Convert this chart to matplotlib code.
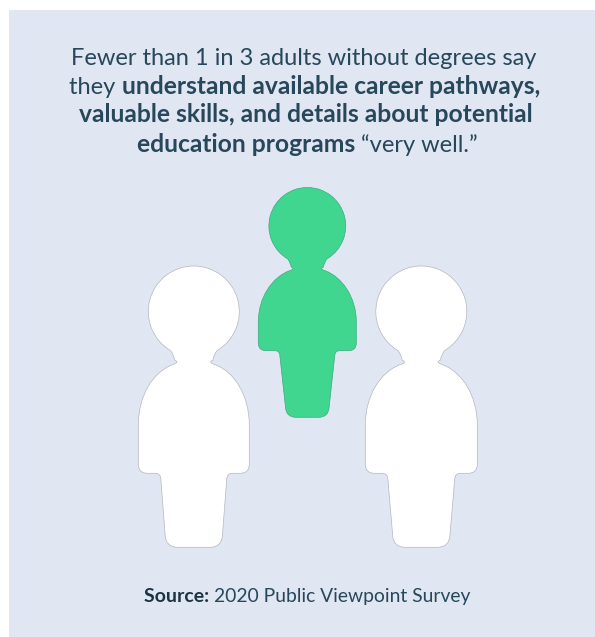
import matplotlib
matplotlib.use("Agg")
import matplotlib.pyplot as plt
from matplotlib.path import Path
from matplotlib.patches import PathPatch, Rectangle
from matplotlib.transforms import Affine2D
import numpy as np

WIDTH, HEIGHT = 595, 637

# One figure in three stands for adults who understand their options "very well".
people_highlighted = [False, True, False]
center_x = [193.8, 307.3, 421.3]
top_y = [266.0, 187.5, 266.0]
head_radius = [45.5, 38.4, 45.5]
shoulder_half = [55.5, 49.0, 56.0]
arm_bottom = [473.3, 350.7, 473.3]
leg_top_half = [33.0, 27.5, 33.5]
leg_foot_half = [28.0, 21.2, 28.0]
foot_bottom = [547.3, 417.3, 547.3]

headline = [
    [("Fewer than 1 in 3 adults without degrees say", False)],
    [("they ", False), ("understand available career pathways,", True)],
    [("valuable skills, and details about potential", True)],
    [("education programs ", True), ("\u201cvery well.\u201d", False)],
]
headline_baselines = [65, 94, 122.5, 152]
headline_mid = [304, 304.5, 305.5, 307.5]
source_runs = [("Source: ", True), ("2020 Public Viewpoint Survey", False)]

PANEL = "#E0E6F2"
GREEN = "#40D690"
INK = "#27475A"
INK_DARK = "#1B3443"

plt.rcParams["font.family"] = ["Lato", "DejaVu Sans"]

fig = plt.figure(figsize=(WIDTH / 100, HEIGHT / 100), dpi=100, facecolor="white")
ax = fig.add_axes([0, 0, 1, 1])
ax.set_xlim(0, WIDTH)
ax.set_ylim(HEIGHT, 0)
ax.axis("off")
ax.add_patch(Rectangle((9, 10), WIDTH - 9, HEIGHT - 10, fc=PANEL, ec="none"))


def person_path(cx, top, r, sh, arm, leg_t, leg_f, foot):
    """Closed outline of a figure: round head, pinched neck, domed torso, tapered leg."""
    cy = top + r
    join_dy = r * 0.86
    join_dx = np.sqrt(r ** 2 - join_dy ** 2)
    # Head arc, clockwise on screen from the left neck join over the crown.
    theta = np.degrees(np.arctan2(join_dy, -join_dx))
    head = Path.arc(theta, 360 + np.degrees(np.arctan2(join_dy, join_dx)))
    head = Affine2D().scale(r).translate(cx, cy).transform_path(head)
    verts = [tuple(v) for v in head.vertices]
    codes = [Path.MOVETO] + [Path.CURVE4] * (len(verts) - 1)

    def quad(ctrl, end):
        verts.extend([ctrl, end])
        codes.extend([Path.CURVE3, Path.CURVE3])

    def line(end):
        verts.append(end)
        codes.append(Path.LINETO)

    def cubic(c1, c2, end):
        verts.extend([c1, c2, end])
        codes.extend([Path.CURVE4] * 3)

    corner = r * 0.2
    foot_r = r * 0.26
    throat = (0.44 * r, cy + 0.95 * r)
    above = (0.42 * r, cy + 1.07 * r)
    tip = (0.295 * r, cy + 1.115 * r)
    below = (0.47 * r, cy + 1.17 * r)
    dome_ctrl = (0.9 * r, cy + 1.33 * r)
    shoulder_ctrl_y = cy + 1.85 * r
    straight_y = cy + 2.5 * r
    # Right side, going down.
    quad((cx + throat[0], throat[1]), (cx + above[0], above[1]))
    quad((cx + tip[0], tip[1]), (cx + below[0], below[1]))
    cubic((cx + dome_ctrl[0], dome_ctrl[1]), (cx + sh, shoulder_ctrl_y), (cx + sh, straight_y))
    line((cx + sh, arm - corner))
    quad((cx + sh, arm), (cx + sh - corner, arm))
    line((cx + leg_t + corner * 0.6, arm))
    quad((cx + leg_t, arm), (cx + leg_t - 0.1, arm + corner * 0.7))
    line((cx + leg_f + 0.6, foot - foot_r))
    quad((cx + leg_f, foot), (cx + leg_f - foot_r, foot))
    # Left side, going back up.
    line((cx - leg_f + foot_r, foot))
    quad((cx - leg_f, foot), (cx - leg_f - 0.6, foot - foot_r))
    line((cx - leg_t + 0.1, arm + corner * 0.7))
    quad((cx - leg_t, arm), (cx - leg_t - corner * 0.6, arm))
    line((cx - sh + corner, arm))
    quad((cx - sh, arm), (cx - sh, arm - corner))
    line((cx - sh, straight_y))
    cubic((cx - sh, shoulder_ctrl_y), (cx - dome_ctrl[0], dome_ctrl[1]), (cx - below[0], below[1]))
    quad((cx - tip[0], tip[1]), (cx - above[0], above[1]))
    quad((cx - throat[0], throat[1]), verts[0])
    verts.append(verts[0])
    codes.append(Path.CLOSEPOLY)
    return Path(verts, codes)


for i, lit in enumerate(people_highlighted):
    outline = person_path(center_x[i], top_y[i], head_radius[i], shoulder_half[i],
                          arm_bottom[i], leg_top_half[i], leg_foot_half[i], foot_bottom[i])
    ax.add_patch(PathPatch(outline, fc=GREEN if lit else "white",
                           ec="#3FA981" if lit else "#B4B7BE", lw=0.5))


def draw_runs(runs, x_mid, baseline, sizes, colors):
    """Centre a line made of regular and bold runs on x_mid."""
    renderer = fig.canvas.get_renderer()
    items = []
    for text, bold in runs:
        weight = "bold" if bold else "regular"
        t = ax.text(0, baseline, text, fontsize=sizes[bold], va="baseline", ha="left",
                    fontweight=weight, color=colors[bold])
        # Trailing spaces are measured by appending a sentinel glyph.
        probe = ax.text(0, baseline, text.replace(" ", "\u00a0") + "|",
                        fontsize=sizes[bold], fontweight=weight)
        bar = ax.text(0, baseline, "|", fontsize=sizes[bold], fontweight=weight)
        w = probe.get_window_extent(renderer).width - bar.get_window_extent(renderer).width
        probe.remove()
        bar.remove()
        items.append((t, w))
    x = x_mid - sum(w for _, w in items) / 2
    for t, w in items:
        t.set_x(x)
        x += w


for runs, base, mid in zip(headline, headline_baselines, headline_mid):
    draw_runs(runs, mid, base, {False: 17.0, True: 17.75}, {False: INK, True: INK})
draw_runs(source_runs, 307.5, 602, {False: 13.9, True: 14.0}, {False: INK, True: INK_DARK})

fig.savefig("out.png", dpi=100, facecolor="white")
